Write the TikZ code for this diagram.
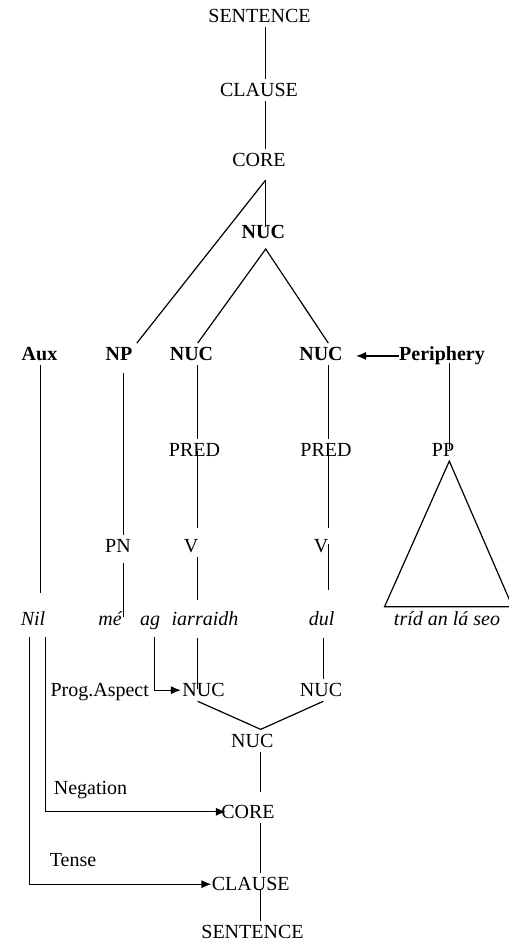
\documentclass[tikz,border=0pt]{standalone}
\usepackage{fontspec}
\setmainfont{Liberation Serif}
\usetikzlibrary{arrows.meta}
\tikzset{
  lbl/.style={inner sep=2pt, anchor=base},
  hd/.style={lbl, font=\bfseries},
  word/.style={lbl, font=\itshape},
  edge/.style={line width=0.6pt},
  arr/.style={edge, -{Latex[length=5pt,width=4pt]}}
}
\begin{document}
\begin{tikzpicture}[x=0.5pt, y=-0.5pt]
  \useasboundingbox (0,0) rectangle (509,943);

  % 竖线所在的 x 位置
  \coordinate (spine) at (265.5,0);
  \coordinate (spineB) at (260.7,0);
  \coordinate (auxX) at (40.7,0);
  \coordinate (npX) at (123.3,0);
  \coordinate (lineL) at (197.7,0);
  \coordinate (lineR) at (328.3,0);
  \coordinate (ppX) at (449.3,0);
  \coordinate (nilA) at (29.3,0);
  \coordinate (nilB) at (45.7,0);
  \coordinate (dulX) at (323.3,0);

  % 上半部分: 成分结构
  \node[lbl] (sentT) at (259.5,22.7) {SENTENCE};
  \node[lbl] (clauseT) at (259,96.7) {CLAUSE};
  \node[lbl] (coreT) at (259,166.7) {CORE};
  \node[hd] (nucT) at (263.3,238.7) {NUC};

  \node[hd] (aux) at (39.5,360.7) {Aux};
  \node[hd] (np) at (119,360.7) {NP};
  \node[hd] (nucL) at (191.5,360.7) {NUC};
  \node[hd] (nucR) at (321,360.7) {NUC};
  \node[hd] (peri) at (442,360.7) {Periphery};

  \node[lbl] (predL) at (194.5,456.7) {PRED};
  \node[lbl] (predR) at (326,456.7) {PRED};
  \node[lbl] (pp) at (443,456.7) {PP};

  \node[lbl] (pn) at (118,552) {PN};
  \node[lbl] (vL) at (191,552) {V};
  \node[lbl] (vR) at (321,552) {V};

  % 句子
  \node[word] (nil) at (33,625) {Nil};
  \node[word] (me) at (110,625) {mé};
  \node[word] (ag) at (150,625) {ag};
  \node[word] (iarr) at (205,625) {iarraidh};
  \node[word] (dul) at (321.7,625) {dul};
  \node[word] (trid) at (447,625) {tríd an lá seo};

  % 下半部分: 算子投射
  \node[lbl] (prog) at (99.7,696.7) {Prog.Aspect};
  \node[lbl] (nucB1) at (203.5,696.7) {NUC};
  \node[lbl] (nucB2) at (321,696.7) {NUC};
  \node[lbl] (nucB) at (252.3,747) {NUC};
  \node[lbl] (negation) at (90.5,794) {Negation};
  \node[lbl] (coreB) at (248,818.3) {CORE};
  \node[lbl] (tense) at (73,866.7) {Tense};
  \node[lbl] (clauseB) at (250.7,890.7) {CLAUSE};
  \node[lbl] (sentB) at (252.5,938.3) {SENTENCE};

  % 上半部分的连线
  \draw[edge] (sentT.south -| spine) -- (clauseT.north -| spine);
  \draw[edge] (clauseT.south -| spine) -- (coreT.north -| spine);
  \coordinate (coreFoot) at (265.7,180);
  \draw[edge, shorten >=-3pt] (coreFoot) -- (nucT.north -| coreFoot);
  \draw[edge] (coreFoot) -- (np.north east);
  \coordinate (nucFoot) at (265.7,249);
  \draw[edge] (nucL.north -| lineL) -- (nucFoot) -- (nucR.north -| lineR);

  \draw[edge, shorten >=7pt] (aux.south -| auxX) -- (nil.north -| auxX);
  \draw[edge, shorten <=4pt] (np.south -| npX) -- (pn.north -| npX);
  \draw[edge, shorten <=3.5pt, shorten >=-5pt] (pn.south -| npX) -- (me.north -| npX);

  \draw[edge] (nucL.south -| lineL) -- (predL.north -| lineL);
  \draw[edge, shorten <=-5pt, shorten >=3.5pt] (predL.south -| lineL) -- (vL.north -| lineL);
  \draw[edge, shorten >=3.5pt] (vL.south -| lineL) -- (iarr.north -| lineL);

  \draw[edge] (nucR.south -| lineR) -- (predR.north -| lineR);
  \draw[edge, shorten <=-5pt, shorten >=3.5pt] (predR.south -| lineR) -- (vR.north -| lineR);
  \draw[edge, shorten <=-6.5pt, shorten >=8.5pt] (vR.south -| lineR) -- (dul.north -| lineR);

  \draw[edge, shorten <=-3pt, shorten >=-5pt] (peri.south -| ppX) -- (pp.north -| ppX);
  \draw[edge] (pp.south -| ppX) -- ([xshift=-2.5pt]trid.north west)
    -- ([xshift=4pt]trid.north east) -- cycle;
  \draw[arr, shorten <=-2pt, shorten >=4.5pt] (peri.west) -- (nucR.east |- peri.west);

  % 下半部分的连线
  \draw[arr, shorten <=1.5pt, shorten >=-1.5pt] ([xshift=2.15pt]ag.south) |- (nucB1.west);
  \draw[edge, shorten <=4pt, shorten >=-5pt] (iarr.south -| lineL) -- (nucB1.north -| lineL);
  \draw[edge, shorten <=4pt] (dul.south -| dulX) -- (nucB2.north -| dulX);
  \draw[edge] (nucB1.south -| lineL) -- (nucB.north -| spineB) -- (nucB2.south -| dulX);
  \draw[edge, shorten >=4.5pt] (nucB.south -| spineB) -- (coreB.north -| spineB);
  \draw[edge] (coreB.south -| spineB) -- (clauseB.north -| spineB);
  \draw[edge, shorten <=-3pt] (clauseB.south -| spineB) -- (sentB.north -| spineB);

  \draw[arr, shorten <=4pt, shorten >=-4.5pt] (nil.south -| nilB) |- (coreB.west);
  \draw[arr, shorten <=4pt, shorten >=-2pt] (nil.south -| nilA) |- (clauseB.west);
\end{tikzpicture}
\end{document}
